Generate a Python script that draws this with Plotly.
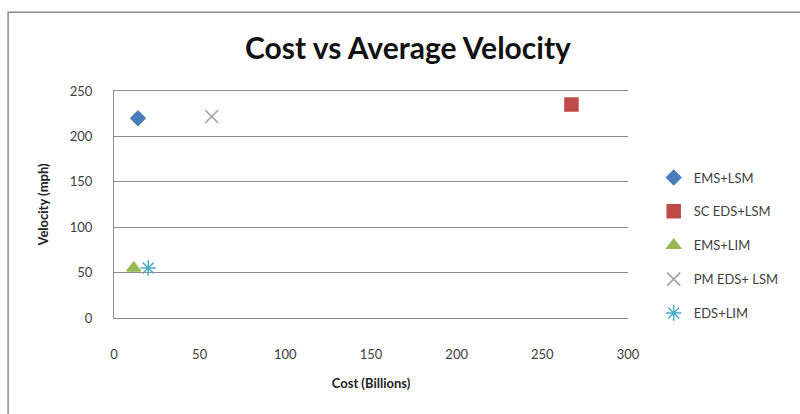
import plotly.graph_objects as go

series_names = ["EMS+LSM", "SC EDS+LSM", "EMS+LIM", "PM EDS+ LSM", "EDS+LIM"]
cost_billions = [14, 267, 11.5, 57, 20]
velocity_mph = [220, 235, 55, 222, 55]

symbols = ["diamond", "square", "triangle-up", "x-thin", "asterisk-open"]
colors = ["#4a7ebb", "#be4b48", "#98b954", "#a0a0a0", "#4bacc6"]
sizes = [11, 13, 12, 13, 13]

fig = go.Figure()
for n, x, y, s, c, sz in zip(series_names, cost_billions, velocity_mph, symbols, colors, sizes):
    fig.add_trace(go.Scatter(
        x=[x], y=[y], mode="markers", name=n, legendgroup=n,
        marker=dict(symbol=s, color=c, size=sz, line=dict(color=c, width=1.5)),
    ))

fig.update_layout(
    width=800, height=414,
    margin=dict(l=114, r=172, t=91, b=96, autoexpand=False),
    paper_bgcolor="white", plot_bgcolor="white",
    font=dict(family="Lato, Open Sans, sans-serif", color="#404040", size=13),
    title=dict(text="<b>Cost vs Average Velocity</b>", x=0.51, xanchor="center",
               y=0.884, yanchor="middle", font=dict(size=30, color="#111111")),
    xaxis=dict(range=[0, 300], dtick=50, showgrid=False, zeroline=False,
               showline=True, mirror=True, linecolor="#8c8c8c", linewidth=1,
               ticks="", tickfont=dict(size=13), ticklabelstandoff=24,
               title=dict(text="<b>Cost (Billions)</b>", font=dict(size=13, color="#222222"), standoff=18)),
    yaxis=dict(range=[0, 250], dtick=50, showgrid=True, gridcolor="#8c8c8c", gridwidth=1,
               zeroline=False, showline=True, linecolor="#8c8c8c", linewidth=1, ticks="",
               tickfont=dict(size=13), ticklabelstandoff=18,
               title=dict(text="<b>Velocity (mph)</b>", font=dict(size=13, color="#222222"), standoff=18)),
    legend=dict(x=1.05, y=0.685, xanchor="left", yanchor="top",
                font=dict(size=13, color="#404040"), tracegroupgap=14,
                bgcolor="rgba(0,0,0,0)"),
    showlegend=True,
)

# outer chart border
fig.add_shape(type="rect", xref="paper", yref="paper",
              x0=-0.206, x1=1.45, y0=-0.6, y1=1.347,
              line=dict(color="#8a8a8a", width=1.5), layer="below")

fig.write_html("out.html")
